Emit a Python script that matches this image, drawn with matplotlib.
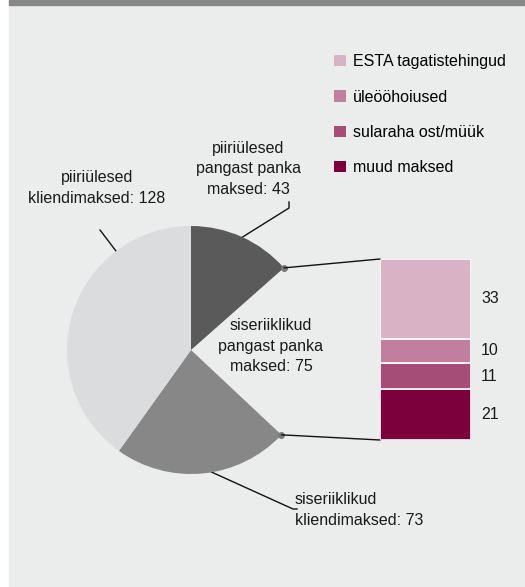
import numpy as np
import matplotlib.pyplot as plt
from matplotlib.patches import Rectangle, ConnectionPatch

plt.rcParams['font.family'] = ['Liberation Sans', 'DejaVu Sans']

# pie: clockwise from 12 o'clock; the domestic interbank slice is broken out into the bar
pie_labels = ["piiriülesed\npangast panka\nmaksed", "siseriiklikud\npangast panka\nmaksed",
              "siseriiklikud\nkliendimaksed", "piiriülesed\nkliendimaksed"]
pie_values = [43, 75, 73, 128]
pie_colors = ["#5a5a5b", "none", "#878787", "#dbdcdd"]

# breakdown of the 75 (top to bottom)
bar_labels = ["ESTA tagatistehingud", "üleööhoiused", "sularaha ost/müük", "muud maksed"]
bar_values = [33, 10, 11, 21]
bar_colors = ["#d9b2c5", "#bf7f9d", "#a54d76", "#7c003c"]

BG = "#ebecec"
W, H = 525, 587
FS = 11.5
fig = plt.figure(figsize=(W / 100, H / 100), dpi=100, facecolor="white")

# main canvas in pixel units
ax = fig.add_axes([0, 0, 1, 1])
ax.set_xlim(0, W)
ax.set_ylim(H, 0)
ax.axis("off")
ax.add_patch(Rectangle((9, 0), W - 9, H, color=BG, zorder=0))
ax.add_patch(Rectangle((9, 0), W - 9, 4.5, color="#888888", zorder=1))

# pie
cx, cy, r = 191, 350, 124
pax = fig.add_axes([(cx - r) / W, (H - cy - r) / H, 2 * r / W, 2 * r / H])
wedges, _ = pax.pie(pie_values, colors=pie_colors, startangle=90, counterclock=False,
                    radius=1, wedgeprops=dict(linewidth=0))
pax.set_xlim(-1, 1)
pax.set_ylim(-1, 1)
pax.axis("off")

# stacked bar
bx0, bx1, by0, by1 = 380, 471, 259, 440
bax = fig.add_axes([bx0 / W, (H - by1) / H, (bx1 - bx0) / W, (by1 - by0) / H])
bottom = 0
handles = []
for lab, val, col in zip(bar_labels[::-1], bar_values[::-1], bar_colors[::-1]):
    b = bax.bar(0, val, bottom=bottom, width=1, color=col, edgecolor="white",
                linewidth=1.2, label=lab)
    bax.text(0.5 + 0.11, bottom + val / 2, str(val), fontsize=FS, va="center",
             ha="left", color="#1a1a1a")
    handles.append(b)
    bottom += val
bax.set_xlim(-0.5, 0.5)
bax.set_ylim(0, sum(bar_values))
bax.axis("off")

# connectors from the broken-out slice edges to the bar
gap = wedges[1]
for ang, ycorner in [(gap.theta2, sum(bar_values)), (gap.theta1, 0)]:
    px, py = np.cos(np.radians(ang)), np.sin(np.radians(ang))
    pax.plot(px, py, "o", color="#7a7a7a", ms=4, clip_on=False, zorder=5)
    con = ConnectionPatch(xyA=(px, py), coordsA=pax.transData,
                          xyB=(-0.5, ycorner), coordsB=bax.transData,
                          color="#111111", linewidth=1)
    fig.add_artist(con)

# legend
leg = ax.legend(handles[::-1], bar_labels, loc="upper left", bbox_to_anchor=(320 / W, 1 - 40 / H),
                bbox_transform=fig.transFigure, frameon=False, fontsize=FS,
                handlelength=0.7, handleheight=0.7, handletextpad=0.45, labelspacing=1.27)
for h in leg.legend_handles:
    h.set_edgecolor("none")

# slice labels and leader lines
txt = dict(fontsize=FS, color="#1a1a1a", linespacing=1.42)
ax.text(97, 188, f"{pie_labels[3]}: {pie_values[3]}", ha="center", va="center", **txt)
ax.plot([100, 119], [230, 255], color="#111111", lw=1)
ax.text(248, 169, f"{pie_labels[0]}: {pie_values[0]}", ha="center", va="center", **txt)
ax.plot([289, 289, 241], [202, 208, 238], color="#111111", lw=1)
ax.text(271, 346, f"{pie_labels[1]}: {pie_values[1]}", ha="center", va="center", **txt)
ax.text(295, 510, f"{pie_labels[2]}: {pie_values[2]}", ha="left", va="center", **txt)
ax.plot([207, 293, 297], [470, 509, 509], color="#111111", lw=1)

fig.savefig("out.png", dpi=100, facecolor="white")
